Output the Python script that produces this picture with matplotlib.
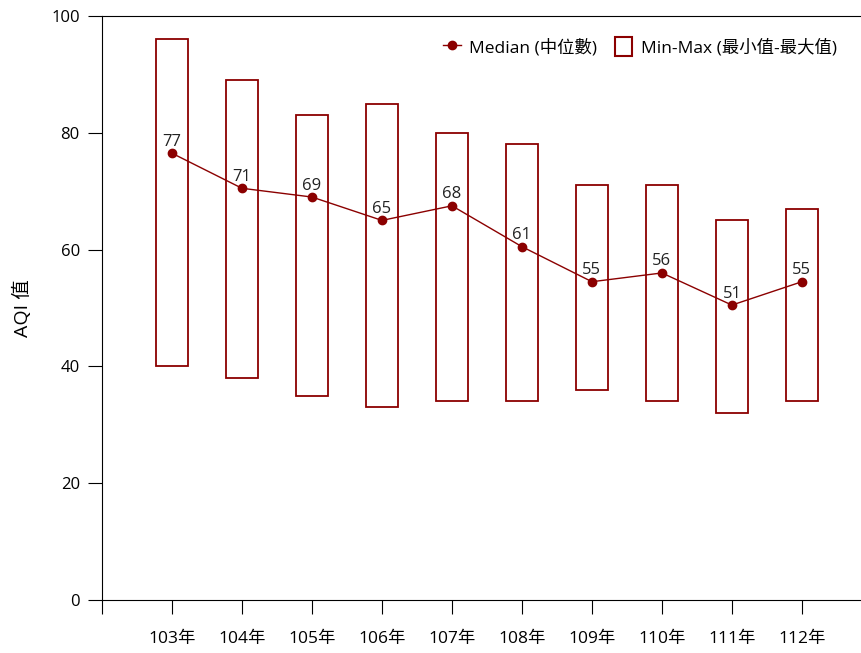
import matplotlib
matplotlib.use('Agg')
import matplotlib.pyplot as plt
import matplotlib.patches as mpatches
from matplotlib.lines import Line2D
import math

plt.rcParams['font.family'] = ['Open Sans', 'Noto Sans CJK TC', 'DejaVu Sans']

years = ['103年', '104年', '105年', '106年', '107年', '108年', '109年', '110年', '111年', '112年']
medians = [76.5, 70.5, 69, 65, 67.5, 60.5, 54.5, 56, 50.5, 54.5]
mins = [40, 38, 35, 33, 34, 34, 36, 34, 32, 34]
maxs = [96, 89, 83, 85, 80, 78, 71, 71, 65, 67]

color = '#8B0000'

fig = plt.figure(figsize=(8.62, 6.53), dpi=100)
ax = fig.add_axes([102 / 862, 53 / 653, 758 / 862, 584 / 653])

box_w = 0.46
for i, (lo, hi) in enumerate(zip(mins, maxs)):
    ax.add_patch(mpatches.Rectangle((i - box_w / 2, lo), box_w, hi - lo,
                                    facecolor='white', edgecolor=color, linewidth=1.3, zorder=2))

xs = list(range(len(years)))
ax.plot(xs, medians, color=color, linewidth=1.0, marker='o', markersize=6, zorder=3)
for x, m in zip(xs, medians):
    ax.annotate(str(int(math.floor(m + 0.5))), (x, m), xytext=(0, 2.5), textcoords='offset points',
                ha='center', va='bottom', fontsize=12, color='#222222', zorder=4)

ax.set_xlim(-1, 9.83)
ax.set_ylim(0, 100)
ax.set_xticks([-1] + xs)
ax.set_xticklabels([''] + years, fontsize=12.5)
ax.set_yticks([0, 20, 40, 60, 80, 100])
ax.tick_params(axis='y', labelsize=12, length=10, direction='out', pad=6)
ax.tick_params(axis='x', length=10, direction='out', pad=12)
ax.spines['right'].set_visible(False)
ax.set_ylabel('AQI 值', fontsize=14, labelpad=14)

handles = [
    Line2D([], [], color=color, marker='o', markersize=6, linewidth=1.0, label='Median (中位數)'),
    mpatches.Patch(facecolor='white', edgecolor=color, linewidth=1.5, label='Min-Max (最小值-最大值)'),
]
ax.legend(handles=handles, loc='upper right', ncol=2, frameon=False, fontsize=12.5,
          handlelength=1.0, handleheight=1.3, columnspacing=1.0, handletextpad=0.5,
          bbox_to_anchor=(0.99, 0.99))

fig.savefig('out.png', dpi=100)
